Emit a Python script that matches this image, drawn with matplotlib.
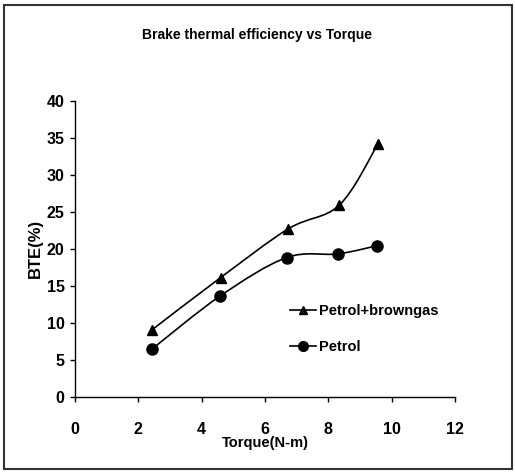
import matplotlib
matplotlib.use("Agg")
import matplotlib.pyplot as plt
import numpy as np
from matplotlib.path import Path
from matplotlib.patches import PathPatch, Rectangle
from matplotlib.lines import Line2D

# Data
torque_bg = [2.42, 4.6, 6.74, 8.35, 9.56]
bte_bg = [9.0, 16.1, 22.7, 25.9, 34.1]
torque_p = [2.42, 4.58, 6.68, 8.3, 9.53]
bte_p = [6.4, 13.6, 18.8, 19.3, 20.4]
series_names = ["Petrol+browngas", "Petrol"]
xticks = [0, 2, 4, 6, 8, 10, 12]
yticks = [0, 5, 10, 15, 20, 25, 30, 35, 40]

plt.rcParams['font.family'] = ["Liberation Sans", "DejaVu Sans"]


def smooth_path(xs, ys):
    pts = np.column_stack([xs, ys]).astype(float)
    n = len(pts)
    verts = [pts[0]]
    codes = [Path.MOVETO]
    for i in range(n - 1):
        p0 = pts[i - 1] if i > 0 else pts[i]
        p1 = pts[i]
        p2 = pts[i + 1]
        p3 = pts[i + 2] if i + 2 < n else pts[i + 1]
        c1 = p1 + (p2 - p0) / 6.0
        c2 = p2 - (p3 - p1) / 6.0
        verts += [c1, c2, p2]
        codes += [Path.CURVE4] * 3
    return Path(verts, codes)


fig = plt.figure(figsize=(5.15, 4.72), dpi=100)
ax = fig.add_axes([0.1456, 0.1595, 0.7379, 0.6271])

for xs, ys in [(torque_bg, bte_bg), (torque_p, bte_p)]:
    ax.add_patch(PathPatch(smooth_path(xs, ys), fill=False, edgecolor="black",
                           lw=1.2, transform=ax.transData))

ax.plot(torque_bg, bte_bg, linestyle="none", marker="^", color="black", markersize=7)
ax.plot(torque_p, bte_p, linestyle="none", marker="o", color="black", markersize=8)

ax.set_xlim(0, 12)
ax.set_ylim(0, 40)
ax.set_xticks(xticks)
ax.set_yticks(yticks)
for s in ["top", "right"]:
    ax.spines[s].set_visible(False)
for s in ["left", "bottom"]:
    ax.spines[s].set_linewidth(1.0)
ax.tick_params(axis="both", direction="out", length=3.5, width=1)
ax.tick_params(axis="x", pad=15)
ax.tick_params(axis="y", pad=4)
for lab in ax.get_xticklabels() + ax.get_yticklabels():
    lab.set_fontsize(11.5)
    lab.set_fontweight("bold")

ax.set_xlabel("Torque(N-m)", fontsize=10.5, fontweight="bold", labelpad=-1)
ax.set_ylabel("BTE(%)", fontsize=12, fontweight="bold", labelpad=3)

fig.text(0.5, 0.926, "Brake thermal efficiency vs Torque", ha="center", va="center",
         fontsize=10, fontweight="bold")

handles = [Line2D([], [], color="black", marker="^", markersize=6, lw=1.2),
           Line2D([], [], color="black", marker="o", markersize=7, lw=1.2)]
ax.legend(handles, series_names, loc="center left", bbox_to_anchor=(0.53, 0.228),
          frameon=False, handlelength=1.8, handletextpad=0.25,
          labelspacing=1.5, prop={"weight": "bold", "size": 10.5})

fig.patches.append(Rectangle((0.008, 0.006), 0.987, 0.983, transform=fig.transFigure,
                             fill=False, edgecolor="#333333", lw=1.5))

fig.savefig("out.png", dpi=100)
